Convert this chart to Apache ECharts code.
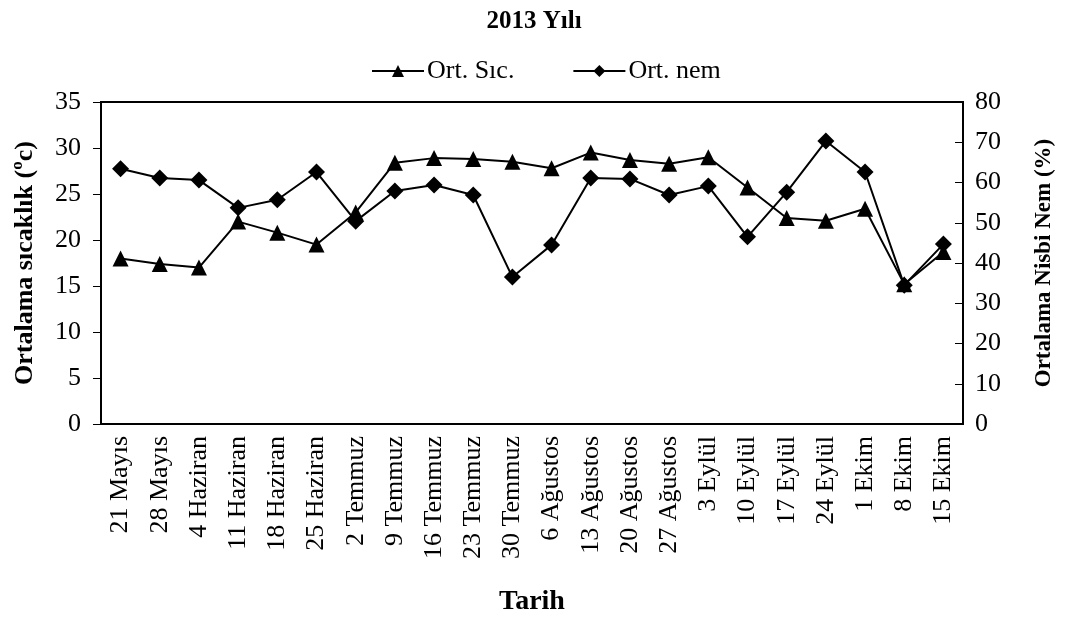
<!DOCTYPE html>
<html>
<head>
<meta charset="utf-8">
<script src="https://cdn.jsdelivr.net/npm/echarts@6/dist/echarts.min.js"></script>
<style>
  html, body { margin: 0; padding: 0; background: #fff; }
  #chart { width: 1068px; height: 626px; }
</style>
</head>
<body>
<div id="chart"></div>
<script>
var dates = ["21 Mayıs", "28 Mayıs", "4 Haziran", "11 Haziran", "18 Haziran", "25 Haziran",
  "2 Temmuz", "9 Temmuz", "16 Temmuz", "23 Temmuz", "30 Temmuz", "6 Ağustos",
  "13 Ağustos", "20 Ağustos", "27 Ağustos", "3 Eylül", "10 Eylül", "17 Eylül",
  "24 Eylül", "1 Ekim", "8 Ekim", "15 Ekim"];
var sicaklik = [18.0, 17.4, 17.0, 22.0, 20.8, 19.5, 23.0, 28.4, 28.9, 28.8, 28.5, 27.8,
  29.5, 28.7, 28.3, 29.0, 25.7, 22.4, 22.1, 23.4, 15.2, 18.7];
var nem = [63.4, 61.1, 60.6, 53.7, 55.7, 62.6, 50.4, 57.9, 59.4, 56.9, 36.5, 44.5,
  61.1, 60.9, 56.9, 59.1, 46.5, 57.6, 70.3, 62.6, 34.5, 44.7];

var font = "'Liberation Serif', 'Times New Roman', serif";
var chart = echarts.init(document.getElementById("chart"));

var option = {
  backgroundColor: "#fff",
  animation: false,
  textStyle: { fontFamily: font, color: "#000" },
  title: {
    text: "2013 Yılı",
    left: "center",
    top: 4,
    textStyle: { fontFamily: font, fontSize: 25, fontWeight: "bold", color: "#000" }
  },
  legend: {
    top: 53,
    left: 366,
    itemGap: 58,
    itemWidth: 52,
    itemHeight: 15,
    textStyle: { fontFamily: font, fontSize: 26, color: "#000", padding: [0, 0, 0, -2] },
    data: ["Ort. Sıc.", "Ort. nem"]
  },
  grid: {
    left: 101,
    right: 105,
    top: 102,
    bottom: 202,
    show: true,
    borderColor: "#000",
    borderWidth: 2
  },
  xAxis: {
    type: "category",
    data: dates,
    boundaryGap: true,
    name: "Tarih",
    nameLocation: "middle",
    nameGap: 164,
    nameTextStyle: { fontFamily: font, fontSize: 28, fontWeight: "bold", color: "#000" },
    axisLine: { lineStyle: { color: "#000", width: 2 } },
    axisTick: { length: 9, lineStyle: { color: "#000" } },
    axisLabel: { rotate: 90, fontFamily: font, fontSize: 26, color: "#000", margin: 12, interval: 0 },
    splitLine: { show: false }
  },
  yAxis: [
    {
      type: "value",
      min: 0,
      max: 35,
      interval: 5,
      position: "left",
      name: "Ortalama sıcaklık (ºc)",
      nameLocation: "middle",
      nameGap: 63,
      nameTextStyle: { fontFamily: font, fontSize: 26, fontWeight: "bold", color: "#000" },
      axisLine: { show: true, lineStyle: { color: "#000", width: 2 } },
      axisTick: { show: true, length: 8, lineStyle: { color: "#000" } },
      axisLabel: { fontFamily: font, fontSize: 26, color: "#000", margin: 20 },
      splitLine: { show: false }
    },
    {
      type: "value",
      min: 0,
      max: 80,
      interval: 10,
      position: "right",
      name: "Ortalama Nisbi Nem (%)",
      nameLocation: "middle",
      nameGap: 70,
      nameTextStyle: { fontFamily: font, fontSize: 23, fontWeight: "bold", color: "#000" },
      axisLine: { show: true, lineStyle: { color: "#000", width: 2 } },
      axisTick: { show: true, inside: true, length: 8, lineStyle: { color: "#000" } },
      axisLabel: { fontFamily: font, fontSize: 26, color: "#000", margin: 12 },
      splitLine: { show: false }
    }
  ],
  series: [
    {
      name: "Ort. Sıc.",
      type: "line",
      yAxisIndex: 0,
      data: sicaklik,
      symbol: "triangle",
      symbolSize: 16,
      lineStyle: { color: "#000", width: 2 },
      itemStyle: { color: "#000" }
    },
    {
      name: "Ort. nem",
      type: "line",
      yAxisIndex: 1,
      data: nem,
      symbol: "diamond",
      symbolSize: 17,
      lineStyle: { color: "#000", width: 2 },
      itemStyle: { color: "#000" }
    }
  ]
};

chart.setOption(option);
</script>
</body>
</html>
